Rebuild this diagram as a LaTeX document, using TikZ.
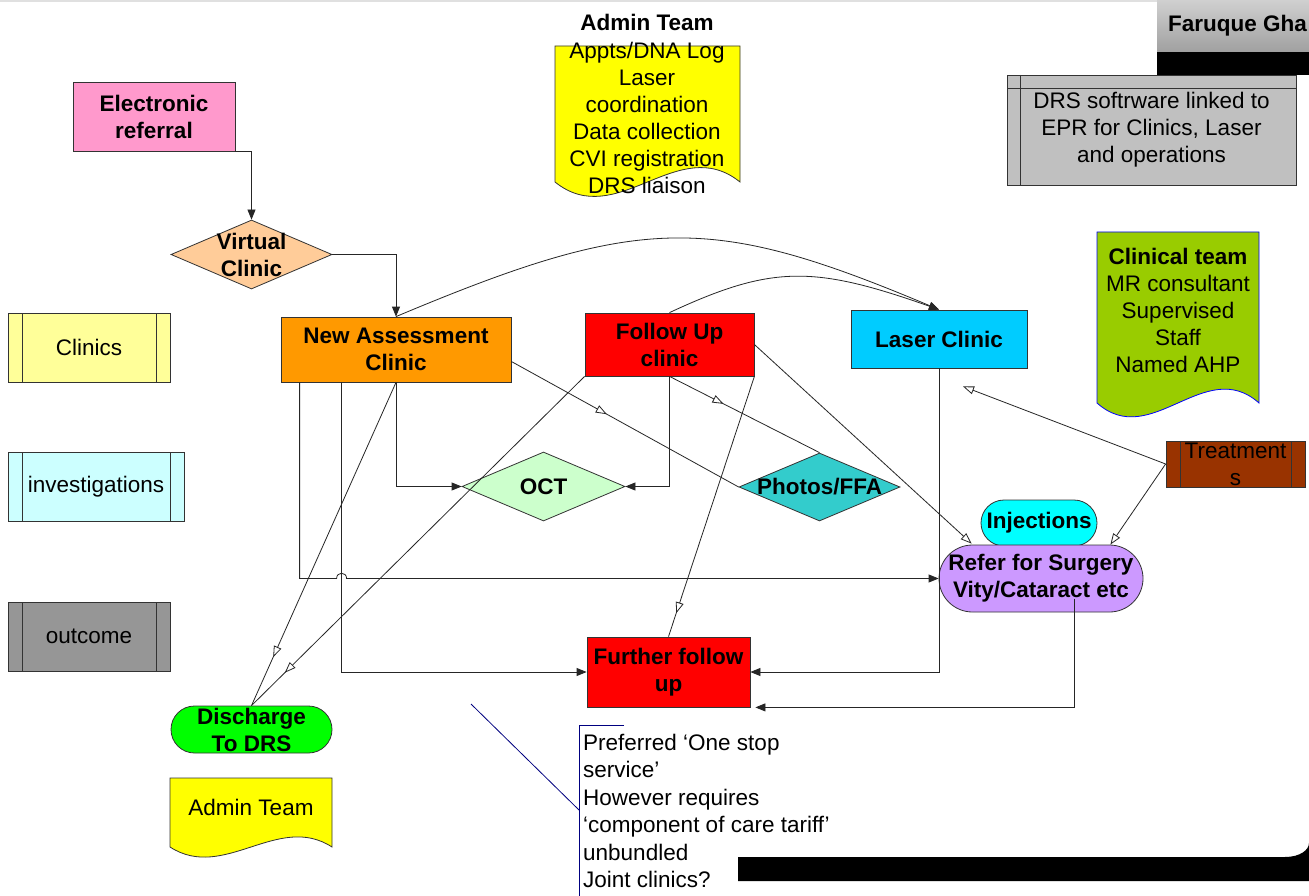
\documentclass[tikz,border=0pt]{standalone}
\usepackage{fontspec}
\setmainfont{Liberation Sans}
\usetikzlibrary{arrows.meta,shapes.geometric,calc,decorations.markings}
\definecolor{cER}{HTML}{FF99CC}
\definecolor{cVC}{HTML}{FFCC99}
\definecolor{cNA}{HTML}{FF9900}
\definecolor{cFU}{HTML}{FF0000}
\definecolor{cLaser}{HTML}{00CCFF}
\definecolor{cOCT}{HTML}{CCFFCC}
\definecolor{cPh}{HTML}{33CCCC}
\definecolor{cInj}{HTML}{00FFFF}
\definecolor{cRef}{HTML}{CC99FF}
\definecolor{cDis}{HTML}{00FF00}
\definecolor{cAdm}{HTML}{FFFF00}
\definecolor{cClin}{HTML}{99CC00}
\definecolor{cCl}{HTML}{FFFF99}
\definecolor{cInv}{HTML}{CCFFFF}
\definecolor{cOut}{HTML}{969696}
\definecolor{cTr}{HTML}{993300}
\definecolor{cDRS}{HTML}{C0C0C0}
\definecolor{cNavy}{HTML}{000080}
\definecolor{cGtop}{HTML}{D0D0D0}
\definecolor{cGbot}{HTML}{A0A0A0}
\begin{document}
\begin{tikzpicture}[x=1pt,y=-1pt,
 FT/.tip={Triangle[length=10pt,width=8pt]},
 OT/.tip={Triangle[open,fill=white,length=11pt,width=8pt]},
 txt/.style={font=\fontsize{22.5}{27}\selectfont, align=center, inner sep=0pt, text=black},
 btxt/.style={txt, font=\fontsize{22.5}{27}\selectfont\bfseries},
 box/.style={btxt, draw=black!80, line width=0.8pt, rectangle},
 dia/.style={diamond, draw=black!80, line width=0.8pt, inner sep=0pt},
 predef/.style={txt, draw=black!80, line width=0.8pt,
   path picture={\draw[black!80,line width=0.8pt]
     ([xshift=14pt]path picture bounding box.north west) -- ([xshift=14pt]path picture bounding box.south west)
     ([xshift=-14pt]path picture bounding box.north east) -- ([xshift=-14pt]path picture bounding box.south east);}},
 storage/.style={txt, draw=black!80, line width=0.8pt,
   path picture={\draw[black!80,line width=0.8pt]
     ([xshift=13pt]path picture bounding box.north west) -- ([xshift=13pt]path picture bounding box.south west)
     ([yshift=-13pt]path picture bounding box.north west) -- ([yshift=-13pt]path picture bounding box.north east);}},
 docsh/.style={draw=black!80, line width=0.8pt},
 conn/.style={draw=black!85, line width=0.8pt},
 midot/.style={postaction={decorate,decoration={markings,mark=at position #1 with {\arrow{OT}}}}}
]
\useasboundingbox (0,0) rectangle (1309,896);
\fill[white] (0,0) rectangle (1309,896);
\fill[black!12] (0,0) rectangle (1157,2);

% header box
\shade[top color=cGtop, bottom color=cGbot] (1157,0) rectangle (1309,52);
\fill[black] (1157,52) rectangle (1309,75);
\node[btxt, anchor=west] (fg) at (1168,26) {Faruque Gha};

% DRS software box
\node[storage, fill=cDRS, minimum width=289pt, minimum height=110pt] (drs) at (1151.5,130)
  {DRS softrware linked to\\EPR for Clinics, Laser\\and operations};

% Admin team (top)
\node[btxt] (admt) at (647,22) {Admin Team};
\filldraw[docsh, fill=cAdm] (555,46) -- (740,46) -- (740,182)
  .. controls (678,132) and (617,232) .. (555,182) -- cycle;
\node[txt] (admlist) at (647,118) {Appts/DNA Log\\Laser\\coordination\\Data collection\\CVI registration\\DRS liaison};

% Clinical team
\filldraw[draw=blue, line width=0.8pt, fill=cClin] (1097,232) -- (1259,232) -- (1259,403)
  .. controls (1205,355) and (1151,451) .. (1097,403) -- cycle;
\node[txt] (clin) at (1178,310.5) {{\bfseries Clinical team}\\MR consultant\\Supervised\\Staff\\Named AHP};

% Admin team (bottom)
\filldraw[docsh, fill=cAdm] (170,778) -- (332,778) -- (332,847)
  .. controls (278,812) and (224,882) .. (170,847) -- cycle;
\node[txt] (admb) at (251,807) {Admin Team};

% legend
\node[predef, fill=cCl, minimum width=162pt, minimum height=69pt] (lcl) at (89,347.5) {Clinics};
\node[predef, fill=cInv, minimum width=176pt, minimum height=69pt] (linv) at (96,486.5) {investigations};
\node[predef, fill=cOut, minimum width=162pt, minimum height=69pt] (lout) at (89,636.5) {outcome};

% main flow nodes
\node[box, fill=cER, minimum width=162pt, minimum height=69pt] (er) at (154,116.5) {Electronic\\referral};
\node[dia, fill=cVC, minimum width=161pt, minimum height=69pt] (vc) at (251.5,254.5) {};
\node[btxt] at (vc) {Virtual\\Clinic};
\node[box, fill=cNA, minimum width=230pt, minimum height=65pt] (na) at (396,349.5) {New Assessment\\Clinic};
\node[box, fill=cFU, minimum width=169pt, minimum height=63pt] (fu) at (669.5,344.5) {Follow Up\\clinic};
\node[box, fill=cLaser, minimum width=176pt, minimum height=58pt] (laser) at (939,339) {Laser Clinic};
\node[dia, fill=cOCT, minimum width=163pt, minimum height=69pt] (oct) at (543.5,486.5) {};
\node[btxt] at (oct) {OCT};
\node[dia, fill=cPh, minimum width=161pt, minimum height=68pt] (photos) at (819.5,487) {};
\node[btxt] at (photos) {Photos/FFA};
\node[predef, fill=cTr, minimum width=139pt, minimum height=46pt] (treat) at (1235.5,464) {};
\node[txt] at (treat) {Treatment\\s};
\node[box, fill=cInj, rounded corners=23pt, minimum width=116pt, minimum height=46pt] (inj) at (1039,523) {Injections};
\node[box, fill=cRef, rounded corners=33.5pt, minimum width=204pt, minimum height=67pt] (refer) at (1041,578.5) {Refer for Surgery\\Vity/Cataract etc};
\node[box, fill=cFU, minimum width=163pt, minimum height=70pt] (ffu) at (668.5,672) {Further follow\\up};
\node[box, fill=cDis, rounded corners=23.5pt, minimum width=161pt, minimum height=47pt] (dis) at (251.5,729.5) {Discharge\\To DRS};

% connectors
\draw[conn,-FT] (er.south east) -| (vc.north);
\draw[conn,-FT] (vc.east) -| (na.north);
\draw[conn,-FT] (na.north) .. controls +(245,-103) and +(-228,-96) .. (laser.north);
\draw[conn,-FT] (fu.north) .. controls +(103,-48) and +(-125,-44) .. (laser.north);
\draw[conn,-FT] (na.south) |- (oct.west);
\draw[conn,-FT] (fu.south) |- (oct.east);
\draw[conn,midot=0.42] ($(na.east)+(0,12)$) -- (photos.west);
\draw[conn,midot=0.36] (fu.south) -- (photos.north);
\draw[conn,midot=0.85] (na.south) -- (dis.north);
\draw[conn,midot=0.9] (fu.south west) -- (dis.north);
\draw[conn,midot=0.91] (fu.south east) -- (ffu.north);
\draw[conn,-OT] (fu.east) -- ($(refer.north west)+(33,-1)$);
\draw[conn,-OT] (treat.west) -- ($(laser.south)+(24,18)$);
\draw[conn,-OT] (treat.west) -- ($(refer.north east)+(-33,0)$);
\coordinate (nff) at ($(na.south west)+(61,0)$);
\coordinate (nar) at ($(na.south west)+(19,0)$);
\draw[conn,-FT] (nff) |- (ffu.west);
\draw[conn,-FT] (nar) -- (nar |- refer.west) -- ($(nff |- refer.west)+(-5,0)$)
  .. controls +(0,-7) and +(0,-7) .. ($(nff |- refer.west)+(5,0)$) -- (refer.west);
\draw[conn,-FT] (laser.south) |- (ffu.east);
\coordinate (rs) at ($(refer.center)+(33,20)$);
\draw[conn,-FT] (rs) |- ($(ffu.south east)+(5,0)$);

% callout
\node[txt, align=left, anchor=north west, font=\fontsize{22.5}{27.5}\selectfont] (note) at (583,733.5)
  {Preferred ‘One stop\\service’\\However requires\\‘component of care tariff’\\unbundled\\Joint clinics?};
\coordinate (cp) at (471,704);
\draw[cNavy, line width=0.8pt] (cp) -- (579,810);
\draw[cNavy, line width=0.8pt] (624,725) -- (579,725) -- (579,896);

% bottom shadow bar
\fill[black] (738,857) -- (1285,857) .. controls (1300,857) and (1309,850) .. (1309,843) -- (1309,881) -- (738,881) -- cycle;
\end{tikzpicture}
\end{document}
